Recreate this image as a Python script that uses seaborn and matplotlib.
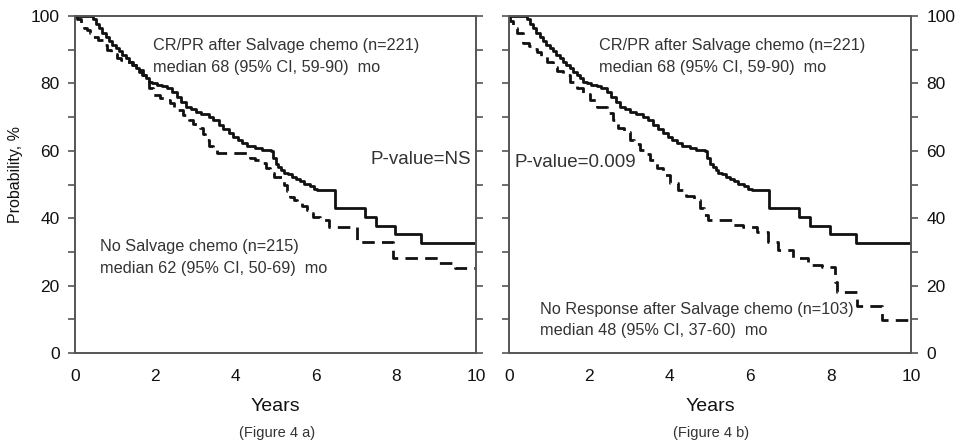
import numpy as np
import pandas as pd
import matplotlib
matplotlib.use("Agg")
import matplotlib.pyplot as plt
import seaborn as sns
from matplotlib.ticker import MultipleLocator

sns.set_theme(style="white")
plt.rcParams['font.family'] = ['Liberation Sans', 'DejaVu Sans']

# CR/PR after salvage chemo (solid, both panels)
crpr_t = [0, 0.36, 0.45, 0.52, 0.6, 0.68, 0.77, 0.85, 0.93, 1.02, 1.1, 1.18, 1.27, 1.35,
          1.43, 1.52, 1.6, 1.68, 1.77, 1.85, 1.93, 2.05, 2.18, 2.3, 2.43, 2.55, 2.65,
          2.76, 2.88, 3.01, 3.15, 3.34, 3.45, 3.59, 3.7, 3.84, 3.95, 4.06, 4.17, 4.3,
          4.5, 4.65, 4.88, 4.93, 5.0, 5.07, 5.14, 5.21, 5.3, 5.4, 5.5, 5.6, 5.7, 5.85,
          5.95, 6.04, 6.48, 7.22, 7.5, 7.98, 8.62, 10]
crpr_s = [100, 100, 99, 97.5, 96.3, 95, 93.9, 92.5, 91.5, 90.4, 89.5, 88.4, 87.4, 86.5,
          85.5, 84.5, 83.5, 82.5, 81.5, 80.5, 80, 79.6, 79.2, 78.5, 77.5, 76, 74.5,
          73.1, 72.3, 71.6, 71, 70.1, 69, 67.7, 66.5, 65.2, 64.2, 63.2, 62.2, 61.5,
          60.7, 60.2, 60, 58, 56, 55.3, 54.3, 53.5, 53, 52.3, 51.5, 51, 50.3, 49.5,
          48.8, 48.3, 43, 40.3, 37.8, 35.3, 32.5, 32.5]

# No salvage chemo (dashed, panel a)
nosal_t = [0, 0.05, 0.15, 0.22, 0.29, 0.38, 0.46, 0.58, 0.71, 0.8, 0.9, 1.04, 1.15, 1.29,
           1.45, 1.6, 1.7, 1.79, 1.85, 1.95, 2.12, 2.25, 2.37, 2.48, 2.58, 2.7, 2.83,
           2.95, 3.12, 3.18, 3.24, 3.35, 3.45, 3.53, 4.36, 4.5, 4.61, 4.75, 4.86, 4.95,
           5.15, 5.2, 5.28, 5.36, 5.45, 5.53, 5.65, 5.78, 5.86, 5.94, 6.11, 6.33, 7.02,
           7.93, 9.06, 9.48, 10]
nosal_s = [100, 99, 97.5, 96.5, 95.8, 95, 93.9, 92.8, 91.4, 90, 88.8, 87.4, 87, 86.4,
           85.5, 84, 82.5, 81, 78.5, 76.6, 75.6, 75, 74.1, 73, 72.1, 70.5, 69.1,
           68, 66.7, 65, 63.2, 61.5, 60.2, 59.3, 58, 57.2, 56.3, 55, 53.3, 52.3,
           51.3, 50, 48, 46.4, 45.5, 44.4, 43.5, 42.4, 41.5, 40.4, 39.5, 37.5, 33,
           28.1, 26.6, 25.1, 25.1]

# No response after salvage chemo (dashed, panel b)
nores_t = [0, 0.03, 0.1, 0.19, 0.35, 0.5, 0.6, 0.69, 0.8, 0.94, 1.1, 1.2, 1.35, 1.52,
           1.68, 1.84, 2.01, 2.18, 2.43, 2.6, 2.72, 2.85, 3.01, 3.12, 3.26, 3.38, 3.51,
           3.68, 3.84, 4.0, 4.2, 4.4, 4.6, 4.75, 4.85, 4.96, 5.54, 5.82, 6.16, 6.44,
           6.7, 7.07, 7.44, 7.78, 8.1, 8.15, 8.65, 9.27, 10]
nores_s = [100, 98.5, 96.5, 94.9, 92, 91, 90.2, 89.4, 88, 86.4, 85, 83.8, 82.5, 80.5,
           78.5, 77, 75, 72.9, 71.1, 69.1, 66.7, 65.5, 63.2, 62, 60.2, 59, 57.3,
           55, 52.8, 50.5, 48.5, 46.5, 45.4, 43, 41, 39.5, 38, 37.5, 35.8, 33,
           30.6, 28.1, 26.1, 25.6, 21, 18, 14, 9.7, 9.7]

x_ticks = [0, 2, 4, 6, 8, 10]
y_ticks = [0, 20, 40, 60, 80, 100]

fig = plt.figure(figsize=(9.68, 4.45), dpi=100)
axL = fig.add_axes([0.0775, 0.2067, 0.4143, 0.7573])
axR = fig.add_axes([0.5258, 0.2067, 0.4153, 0.7573])

ink = '#111111'
txt = '#333333'
dash = (0, (4.5, 2.6))

def curve(ax, t, s, ls):
    df = pd.DataFrame({'t': t, 's': s})
    sns.lineplot(data=df, x='t', y='s', ax=ax, estimator=None, sort=False,
                 drawstyle='steps-post', color=ink, linewidth=2.0, linestyle=ls)

curve(axL, crpr_t, crpr_s, '-')
curve(axL, nosal_t, nosal_s, dash)
curve(axR, crpr_t, crpr_s, '-')
curve(axR, nores_t, nores_s, dash)

for ax in (axL, axR):
    ax.set_xlim(0, 10)
    ax.set_ylim(0, 100)
    ax.set_xticks(x_ticks)
    ax.set_yticks(y_ticks)
    ax.yaxis.set_minor_locator(MultipleLocator(10))
    for sp in ax.spines.values():
        sp.set_color('#555555')
        sp.set_linewidth(1.4)
    ax.tick_params(axis='x', which='major', direction='inout', length=7, width=1.2,
                   colors='#555555', labelcolor='#111111', labelsize=12.5, pad=8)
    ax.tick_params(axis='y', which='both', direction='out', length=5, width=1.2,
                   colors='#555555', labelcolor='#111111', labelsize=12.5,
                   left=True, right=True, pad=6)
    ax.set_xlabel('Years', fontsize=14, color='#111111', labelpad=10)
    ax.set_ylabel('')

axL.tick_params(axis='y', labelleft=True, labelright=False)
axR.tick_params(axis='y', labelleft=False, labelright=True)
axL.set_ylabel('Probability, %', fontsize=11.5, color='#111111')
axL.yaxis.set_label_coords(-0.13, 0.53)

fs = 11.7
pfs = 13.5
axL.text(1.95, 91.4, 'CR/PR after Salvage chemo (n=221)', fontsize=fs, color=txt, va='center')
axL.text(1.95, 84.6, 'median 68 (95% CI, 59-90)  mo', fontsize=fs, color=txt, va='center')
axL.text(7.36, 57.3, 'P-value=NS', fontsize=pfs, color=txt, va='center')
axL.text(0.62, 31.6, 'No Salvage chemo (n=215)', fontsize=fs, color=txt, va='center')
axL.text(0.62, 25.2, 'median 62 (95% CI, 50-69)  mo', fontsize=fs, color=txt, va='center')

axR.text(2.24, 91.4, 'CR/PR after Salvage chemo (n=221)', fontsize=fs, color=txt, va='center')
axR.text(2.24, 84.6, 'median 68 (95% CI, 59-90)  mo', fontsize=fs, color=txt, va='center')
axR.text(0.14, 56.6, 'P-value=0.009', fontsize=pfs, color=txt, va='center')
axR.text(0.77, 13.0, 'No Response after Salvage chemo (n=103)', fontsize=fs, color=txt, va='center')
axR.text(0.77, 6.6, 'median 48 (95% CI, 37-60)  mo', fontsize=fs, color=txt, va='center')

fig.text(277 / 968, 1 - 433 / 445, '(Figure 4 a)', fontsize=10.5, color=txt, ha='center', va='center')
fig.text(711 / 968, 1 - 433 / 445, '(Figure 4 b)', fontsize=10.5, color=txt, ha='center', va='center')

fig.savefig('out.png', dpi=100, facecolor='white')
